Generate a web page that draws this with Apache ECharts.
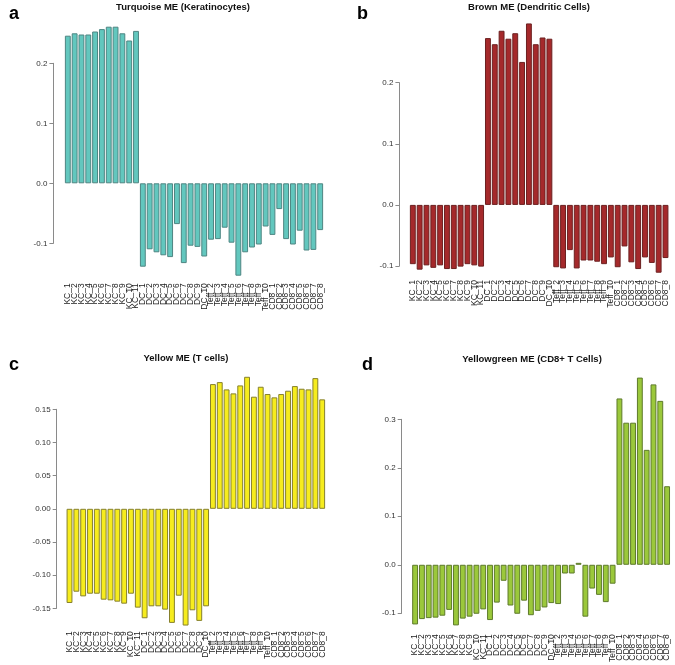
<!DOCTYPE html>
<html>
<head>
<meta charset="utf-8">
<script src="https://cdn.jsdelivr.net/npm/echarts@6/dist/echarts.min.js"></script>
<style>
html,body{margin:0;padding:0;background:#fff;}
#chart{width:675px;height:665px;}
</style>
</head>
<body>
<div id="chart"></div>
<script>
const categories = [
  'KC_1','KC_2','KC_3','KC_4','KC_5','KC_6','KC_7','KC_8','KC_9','KC_10','KC_11',
  'DC_1','DC_2','DC_3','DC_4','DC_5','DC_6','DC_7','DC_8','DC_9','DC_10',
  'Teff_2','Teff_3','Teff_4','Teff_5','Teff_6','Teff_7','Teff_8','Teff_9','Teff_10',
  'CD8_1','CD8_2','CD8_3','CD8_4','CD8_5','CD8_6','CD8_7','CD8_8'
];

const turquoiseME = [
  0.246, 0.250, 0.248, 0.248, 0.253, 0.257, 0.261, 0.261, 0.250, 0.238, 0.254,
  -0.139, -0.110, -0.115, -0.120, -0.123, -0.068, -0.133, -0.104, -0.106, -0.122,
  -0.094, -0.093, -0.074, -0.099, -0.154, -0.115, -0.107, -0.102, -0.072,
  -0.086, -0.043, -0.093, -0.102, -0.079, -0.112, -0.111, -0.078
];

const brownME = [
  -0.097, -0.106, -0.099, -0.103, -0.099, -0.105, -0.105, -0.101, -0.097, -0.099, -0.101,
  0.273, 0.263, 0.285, 0.272, 0.281, 0.234, 0.297, 0.263, 0.274, 0.272,
  -0.102, -0.104, -0.074, -0.104, -0.091, -0.091, -0.093, -0.097, -0.086,
  -0.102, -0.068, -0.094, -0.105, -0.086, -0.095, -0.111, -0.087
];

const yellowME = [
  -0.142, -0.125, -0.132, -0.128, -0.128, -0.137, -0.138, -0.140, -0.143, -0.128, -0.149,
  -0.165, -0.147, -0.147, -0.152, -0.172, -0.131, -0.176, -0.153, -0.169, -0.147,
  0.188, 0.191, 0.180, 0.174, 0.186, 0.199, 0.169, 0.184, 0.173,
  0.168, 0.173, 0.178, 0.185, 0.181, 0.180, 0.197, 0.165
];

const yellowgreenME = [
  -0.123, -0.112, -0.110, -0.109, -0.105, -0.093, -0.125, -0.111, -0.107, -0.101, -0.092,
  -0.114, -0.078, -0.033, -0.084, -0.101, -0.074, -0.104, -0.095, -0.088, -0.079,
  -0.081, -0.018, -0.018, 0.004, -0.107, -0.049, -0.062, -0.077, -0.039,
  0.343, 0.293, 0.293, 0.386, 0.237, 0.372, 0.338, 0.162
];

const panelTitles = ['Turquoise ME (Keratinocytes)', 'Brown ME (Dendritic Cells)', 'Yellow ME (T cells)', 'Yellowgreen ME (CD8+ T Cells)'];
const panelLetters = ['a', 'b', 'c', 'd'];

const panels = [
  {data: turquoiseME, fill: '#62C7BE', border: '#4E8582', grid: {left: 64.4, top: 63.3, width: 259.2, height: 180}, yMin: -0.1, yMax: 0.2, yInt: 0.1, dec: 1, offset: 11, margin: 40,
   title: {x: 183, y: 2.5}, letter: {x: 9, y: 5}},
  {data: brownME, fill: '#A5292B', border: '#6B2020', grid: {left: 409.4, top: 82.7, width: 259.5, height: 183.3}, yMin: -0.1, yMax: 0.2, yInt: 0.1, dec: 1, offset: 10, margin: 14,
   title: {x: 529, y: 2.5}, letter: {x: 357, y: 5}},
  {data: yellowME, fill: '#F6EC1E', border: '#86802C', grid: {left: 66.1, top: 409.3, width: 259.5, height: 199}, yMin: -0.15, yMax: 0.15, yInt: 0.05, dec: 2, offset: 9.4, margin: 23,
   title: {x: 186, y: 353}, letter: {x: 9, y: 356}},
  {data: yellowgreenME, fill: '#9BC83B', border: '#5D7A2A', grid: {left: 411.7, top: 419.3, width: 258.8, height: 194.7}, yMin: -0.1, yMax: 0.3, yInt: 0.1, dec: 1, offset: 10, margin: 21,
   title: {x: 532, y: 354}, letter: {x: 362, y: 356}}
];

const FONT = '"Liberation Sans", Arial, Helvetica, sans-serif';

const option = {
  backgroundColor: '#ffffff',
  animation: false,
  title: [],
  grid: [],
  xAxis: [],
  yAxis: [],
  series: []
};

panels.forEach((p, i) => {
  option.title.push({
    text: panelTitles[i], left: p.title.x, top: p.title.y, textAlign: 'center', padding: 0,
    textStyle: {fontFamily: FONT, fontSize: 9.5, fontWeight: 'bold', color: '#111'}
  });
  option.title.push({
    text: panelLetters[i], left: p.letter.x, top: p.letter.y, padding: 0,
    textStyle: {fontFamily: FONT, fontSize: 18, fontWeight: 'bold', color: '#000'}
  });
  option.grid.push({left: p.grid.left, top: p.grid.top, width: p.grid.width, height: p.grid.height, containLabel: false});
  option.xAxis.push({
    type: 'category', gridIndex: i, data: categories,
    axisLine: {show: false, onZero: false}, axisTick: {show: false},
    axisLabel: {interval: 0, rotate: 90, margin: p.margin, fontSize: 8.5, fontFamily: FONT, color: '#222'},
    splitLine: {show: false}
  });
  option.yAxis.push({
    type: 'value', gridIndex: i, min: p.yMin, max: p.yMax, interval: p.yInt, offset: p.offset,
    axisLine: {show: true, lineStyle: {color: '#8a8a8a', width: 1}},
    axisTick: {show: true, length: 4, lineStyle: {color: '#8a8a8a'}},
    axisLabel: {fontSize: 8, fontFamily: FONT, color: '#333', margin: 6,
      formatter: v => (Math.abs(v) < 1e-9 ? 0 : v).toFixed(p.dec)},
    splitLine: {show: false}
  });
  option.series.push({
    type: 'bar', xAxisIndex: i, yAxisIndex: i, data: p.data, clip: false,
    barCategoryGap: '14%',
    itemStyle: {color: p.fill, borderColor: p.border, borderWidth: 1}
  });
});

const chart = echarts.init(document.getElementById('chart'), null, {renderer: 'canvas'});
chart.setOption(option);
</script>
</body>
</html>
